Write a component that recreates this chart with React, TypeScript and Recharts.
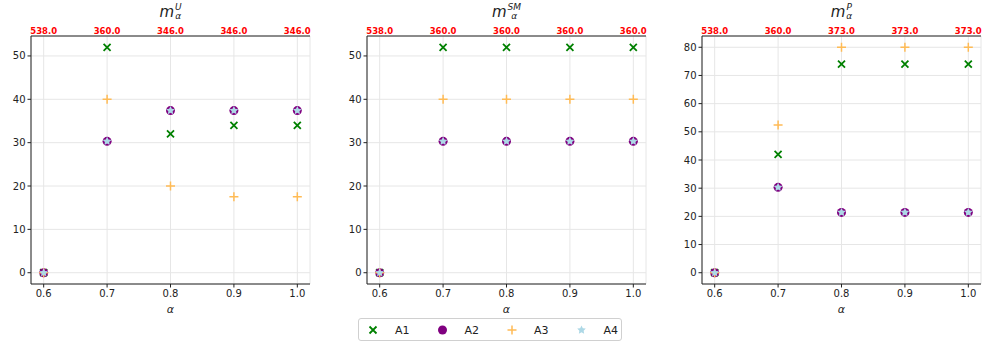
import React from 'react';
import { ScatterChart, Scatter, XAxis, YAxis, CartesianGrid } from 'recharts';

const ALPHA = [0.6, 0.7, 0.8, 0.9, 1.0];

// m_alpha^U
const U_TOP = ['538.0', '360.0', '346.0', '346.0', '346.0'];
const U_A1 = [0, 52, 32, 34, 34];
const U_A2 = [0, 30.3, 37.4, 37.4, 37.4];
const U_A3 = [0, 40, 20, 17.5, 17.5];
const U_A4 = [0, 30.3, 37.4, 37.4, 37.4];

// m_alpha^SM
const SM_TOP = ['538.0', '360.0', '360.0', '360.0', '360.0'];
const SM_A1 = [0, 52, 52, 52, 52];
const SM_A2 = [0, 30.3, 30.3, 30.3, 30.3];
const SM_A3 = [0, 40, 40, 40, 40];
const SM_A4 = [0, 30.3, 30.3, 30.3, 30.3];

// m_alpha^P
const P_TOP = ['538.0', '360.0', '373.0', '373.0', '373.0'];
const P_A1 = [0, 42, 74, 74, 74];
const P_A2 = [0, 30.3, 21.4, 21.4, 21.4];
const P_A3 = [0, 52.4, 80, 80, 80];
const P_A4 = [0, 30.3, 21.4, 21.4, 21.4];

const X_TICKS = [0.6, 0.7, 0.8, 0.9, 1.0];
const Y_TICKS_50 = [0, 10, 20, 30, 40, 50];
const Y_TICKS_80 = [0, 10, 20, 30, 40, 50, 60, 70, 80];

const GREEN = '#008000';
const PURPLE = '#800080';
const ORANGE = '#ffbb55';
const LIGHTBLUE = '#add8e6';
const FONT = 'DejaVu Sans, sans-serif';

const toPts = (vals: number[]) => ALPHA.map((a, i) => ({ x: a, y: vals[i] }));

const XShape = (p: any) => {
  const { cx, cy } = p;
  const s = 3.5;
  return (
    <path d={`M${cx - s},${cy - s}L${cx + s},${cy + s}M${cx - s},${cy + s}L${cx + s},${cy - s}`}
      stroke={GREEN} strokeWidth={1.8} fill="none" />
  );
};
const CircleShape = (p: any) => <circle cx={p.cx} cy={p.cy} r={4.5} fill={PURPLE} />;
const PlusShape = (p: any) => {
  const { cx, cy } = p;
  const s = 4.5;
  return (
    <path d={`M${cx - s},${cy}L${cx + s},${cy}M${cx},${cy - s}L${cx},${cy + s}`}
      stroke={ORANGE} strokeWidth={1.5} fill="none" />
  );
};
const starPath = (cx: number, cy: number, R: number) => {
  const r = R * 0.5;
  let d = '';
  for (let i = 0; i < 10; i++) {
    const rad = i % 2 === 0 ? R : r;
    const ang = -Math.PI / 2 + (i * Math.PI) / 5;
    d += `${i === 0 ? 'M' : 'L'}${cx + rad * Math.cos(ang)},${cy + rad * Math.sin(ang)}`;
  }
  return d + 'Z';
};
const StarShape = (p: any) => <path d={starPath(p.cx, p.cy, 4.5)} fill={LIGHTBLUE} />;
const NoShape = () => <g />;

const Title = ({ sup, left }: { sup: string; left: number }) => (
  <div style={{ position: 'absolute', left, top: 2, width: 279, textAlign: 'center', fontFamily: FONT, color: '#222' }}>
    <span style={{ display: 'inline-flex', alignItems: 'center' }}>
      <span style={{ fontStyle: 'italic', fontSize: 15 }}>m</span>
      <span style={{ display: 'inline-flex', flexDirection: 'column', fontSize: 9, fontStyle: 'italic', lineHeight: '9px', marginLeft: 1 }}>
        <span>{sup}</span>
        <span>α</span>
      </span>
    </span>
  </div>
);

type PanelProps = {
  left: number;
  top: string[];
  a1: number[];
  a2: number[];
  a3: number[];
  a4: number[];
  yTicks: number[];
  yDomain: [number, number];
  sup: string;
};

const Panel = ({ left, top, a1, a2, a3, a4, yTicks, yDomain, sup }: PanelProps) => {
  const topLabel = (v: number) => {
    const i = ALPHA.findIndex((a) => Math.abs(a - v) < 1e-6);
    return i >= 0 ? top[i] : '';
  };
  return (
    <div style={{ position: 'absolute', left, top: 0, width: 320, height: 344 }}>
      <Title sup={sup} left={31} />
      <ScatterChart width={320} height={344} margin={{ top: 16, right: 10, bottom: 30, left: 0 }}>
        <CartesianGrid stroke="#e6e6e6" xAxisId="bottom" yAxisId="left" />
        <XAxis xAxisId="bottom" dataKey="x" type="number" domain={[0.58, 1.02]} ticks={X_TICKS}
          allowDataOverflow height={30} tickSize={3.5} stroke="#222"
          tick={{ fill: '#222', fontSize: 10, fontFamily: FONT }}
          tickFormatter={(v: number) => v.toFixed(1)}
          label={{ value: 'α', position: 'insideBottom', offset: 1, fill: '#222', fontSize: 11, fontStyle: 'italic', fontFamily: FONT }} />
        <XAxis xAxisId="top" orientation="top" dataKey="x" type="number" domain={[0.58, 1.02]} ticks={X_TICKS}
          allowDataOverflow height={20} tickLine={false} tickSize={0} stroke="#222"
          tick={{ fill: '#ff0000', fontSize: 8.5, fontWeight: 'bold', fontFamily: FONT }}
          tickFormatter={topLabel} />
        <YAxis yAxisId="left" dataKey="y" type="number" domain={yDomain} ticks={yTicks}
          allowDataOverflow width={31} tickSize={3.5} stroke="#222"
          tick={{ fill: '#222', fontSize: 10, fontFamily: FONT }} />
        <YAxis yAxisId="right" orientation="right" dataKey="y" type="number" domain={yDomain}
          allowDataOverflow width={0} tick={false} tickLine={false} stroke="#222" />
        <Scatter name="A1" data={toPts(a1)} xAxisId="bottom" yAxisId="left" shape={XShape} isAnimationActive={false} />
        <Scatter name="A2" data={toPts(a2)} xAxisId="bottom" yAxisId="left" shape={CircleShape} isAnimationActive={false} />
        <Scatter name="A3" data={toPts(a3)} xAxisId="bottom" yAxisId="left" shape={PlusShape} isAnimationActive={false} />
        <Scatter name="A4" data={toPts(a4)} xAxisId="bottom" yAxisId="left" shape={StarShape} isAnimationActive={false} />
        <Scatter name="top" data={toPts(a1)} xAxisId="top" yAxisId="right" shape={NoShape} isAnimationActive={false} legendType="none" />
      </ScatterChart>
    </div>
  );
};

const LEGEND_ITEMS = [
  { name: 'A1', shape: XShape },
  { name: 'A2', shape: CircleShape },
  { name: 'A3', shape: PlusShape },
  { name: 'A4', shape: StarShape },
];

const Legend = () => (
  <div style={{ position: 'absolute', left: 358, top: 318, width: 264, height: 23, border: '1px solid #d0d0d0', borderRadius: 3, boxSizing: 'border-box', background: '#fff' }}>
    <svg width={264} height={23} style={{ position: 'absolute', left: -1, top: -1 }}>
      {LEGEND_ITEMS.map((it, i) => {
        const x0 = 15 + i * 69.5;
        const Shape = it.shape;
        return (
          <g key={it.name}>
            <Shape cx={x0} cy={12} />
            <text x={x0 + 22} y={16} fontSize={11} fontFamily={FONT} fill="#222">{it.name}</text>
          </g>
        );
      })}
    </svg>
  </div>
);

export default function App() {
  return (
    <div style={{ position: 'absolute', left: 0, top: 0, width: 986, height: 344, background: '#fff' }}>
      <Panel left={0} top={U_TOP} a1={U_A1} a2={U_A2} a3={U_A3} a4={U_A4}
        yTicks={Y_TICKS_50} yDomain={[-2.6, 54.6]} sup="U" />
      <Panel left={336} top={SM_TOP} a1={SM_A1} a2={SM_A2} a3={SM_A3} a4={SM_A4}
        yTicks={Y_TICKS_50} yDomain={[-2.6, 54.6]} sup="SM" />
      <Panel left={671} top={P_TOP} a1={P_A1} a2={P_A2} a3={P_A3} a4={P_A4}
        yTicks={Y_TICKS_80} yDomain={[-4, 84]} sup="P" />
      <Legend />
    </div>
  );
}
